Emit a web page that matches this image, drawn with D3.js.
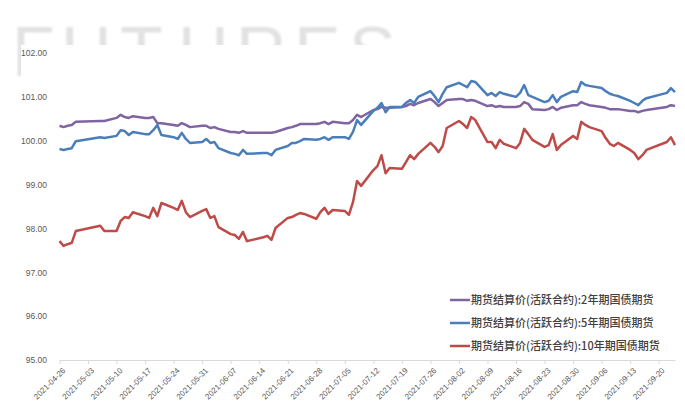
<!DOCTYPE html>
<html>
 <head>
  <meta charset="utf-8">
  <title>国债期货结算价</title>
  <style>
  body { margin: 0; background: #fff; }
  svg { display: block; font-family: "Liberation Sans", "DejaVu Sans", sans-serif; }
  </style>
  <script src="https://cdnjs.cloudflare.com/ajax/libs/d3/7.8.3/d3.min.js"></script>
 </head>
 <body>
  <script>
   // trading days
   const dates = [
    "2021-04-26","2021-04-27","2021-04-28","2021-04-29","2021-04-30",
    "2021-05-06","2021-05-07",
    "2021-05-10","2021-05-11","2021-05-12","2021-05-13","2021-05-14",
    "2021-05-17","2021-05-18","2021-05-19","2021-05-20","2021-05-21",
    "2021-05-24","2021-05-25","2021-05-26","2021-05-27","2021-05-28",
    "2021-05-31","2021-06-01","2021-06-02","2021-06-03","2021-06-04",
    "2021-06-07","2021-06-08","2021-06-09","2021-06-10","2021-06-11",
    "2021-06-15","2021-06-16","2021-06-17","2021-06-18",
    "2021-06-21","2021-06-22","2021-06-23","2021-06-24","2021-06-25",
    "2021-06-28","2021-06-29","2021-06-30","2021-07-01","2021-07-02",
    "2021-07-05","2021-07-06","2021-07-07","2021-07-08","2021-07-09",
    "2021-07-12","2021-07-13","2021-07-14","2021-07-15","2021-07-16",
    "2021-07-19","2021-07-20","2021-07-21","2021-07-22","2021-07-23",
    "2021-07-26","2021-07-27","2021-07-28","2021-07-29","2021-07-30",
    "2021-08-02","2021-08-03","2021-08-04","2021-08-05","2021-08-06",
    "2021-08-09","2021-08-10","2021-08-11","2021-08-12","2021-08-13",
    "2021-08-16","2021-08-17","2021-08-18","2021-08-19","2021-08-20",
    "2021-08-23","2021-08-24","2021-08-25","2021-08-26","2021-08-27",
    "2021-08-30","2021-08-31","2021-09-01","2021-09-02","2021-09-03",
    "2021-09-06","2021-09-07","2021-09-08","2021-09-09","2021-09-10",
    "2021-09-13","2021-09-14","2021-09-15","2021-09-16","2021-09-17",
    "2021-09-22","2021-09-23","2021-09-24"
   ];

   const bond2y = [
    100.34,100.31,100.34,100.36,100.43,
    100.45,100.45,
    100.52,100.59,100.54,100.52,100.56,
    100.52,100.52,100.54,100.40,100.40,
    100.36,100.34,100.40,100.36,100.31,
    100.34,100.34,100.29,100.31,100.27,
    100.20,100.20,100.18,100.22,100.18,
    100.18,100.18,100.18,100.20,
    100.29,100.31,100.34,100.38,100.38,
    100.38,100.40,100.43,100.38,100.43,
    100.40,100.40,100.47,100.59,100.54,
    100.70,100.72,100.77,100.75,100.75,
    100.77,100.79,100.84,100.81,100.86,
    100.95,100.88,100.79,100.86,100.93,
    100.95,100.95,100.91,100.93,100.91,
    100.79,100.81,100.77,100.79,100.77,
    100.77,100.79,100.88,100.84,100.72,
    100.70,100.72,100.77,100.70,100.75,
    100.81,100.81,100.88,100.84,100.81,
    100.77,100.75,100.72,100.72,100.72,
    100.68,100.68,100.65,100.68,100.70,
    100.77,100.81,100.79
   ];

   const bond5y = [
    99.81,99.79,99.81,99.83,99.99,
    100.08,100.06,
    100.11,100.24,100.22,100.13,100.20,
    100.15,100.15,100.24,100.36,100.13,
    100.08,100.04,100.18,100.04,99.95,
    99.97,100.04,99.95,99.97,99.83,
    99.72,99.70,99.67,99.79,99.70,
    99.72,99.72,99.67,99.79,
    99.88,99.95,99.95,99.99,100.04,
    100.02,100.04,100.08,100.02,100.08,
    100.08,100.04,100.20,100.47,100.36,
    100.68,100.75,100.86,100.65,100.77,
    100.77,100.86,100.93,100.86,101.00,
    101.13,101.02,100.88,101.07,101.22,
    101.32,101.27,101.22,101.36,101.34,
    101.04,101.09,101.02,101.11,101.07,
    101.00,101.09,101.27,101.04,101.00,
    100.88,100.91,101.04,100.88,101.00,
    101.13,101.11,101.34,101.27,101.25,
    101.20,101.13,101.07,101.04,101.02,
    100.91,100.86,100.81,100.91,100.97,
    101.09,101.20,101.11
   ];

   const bond10y = [
    97.71,97.60,97.64,97.67,97.94,
    98.06,97.94,
    97.94,98.17,98.26,98.24,98.37,
    98.28,98.24,98.47,98.28,98.58,
    98.47,98.42,98.63,98.37,98.26,
    98.40,98.44,98.24,98.28,98.03,
    97.87,97.85,97.76,97.92,97.71,
    97.80,97.83,97.74,98.01,
    98.24,98.26,98.31,98.35,98.33,
    98.22,98.37,98.47,98.33,98.42,
    98.40,98.31,98.60,99.08,98.97,
    99.33,99.42,99.67,99.26,99.38,
    99.36,99.51,99.67,99.58,99.70,
    99.95,99.86,99.74,99.88,100.29,
    100.45,100.38,100.29,100.54,100.47,
    99.97,99.97,99.83,100.02,99.93,
    99.83,99.95,100.27,100.15,100.02,
    99.86,99.90,100.15,99.79,99.90,
    100.11,100.04,100.43,100.36,100.31,
    100.22,100.06,99.93,99.88,99.95,
    99.79,99.72,99.58,99.67,99.79,
    99.97,100.08,99.90
   ];

   const seriesNames = [
    "期货结算价(活跃合约):2年期国债期货",
    "期货结算价(活跃合约):5年期国债期货",
    "期货结算价(活跃合约):10年期国债期货"
   ];
   const seriesColors = ["#8064a2", "#4a7ebb", "#be4b48"];
   const yTicks = [95, 96, 97, 98, 99, 100, 101, 102];
   const xTicks = [
    "2021-04-26","2021-05-03","2021-05-10","2021-05-17","2021-05-24",
    "2021-05-31","2021-06-07","2021-06-14","2021-06-21","2021-06-28",
    "2021-07-05","2021-07-12","2021-07-19","2021-07-26","2021-08-02",
    "2021-08-09","2021-08-16","2021-08-23","2021-08-30","2021-09-06",
    "2021-09-13","2021-09-20"
   ];

   const w = 685;
   const h = 408;
   const parseDate = d3.timeParse("%Y-%m-%d");
   const fmt = d3.timeFormat("%Y-%m-%d");

   const svg = d3.select("body")
                 .append("svg")
                 .attr("width", w)
                 .attr("height", h);

   // faint watermark, mostly hidden behind the plot area
   const clip = svg.append("clipPath").attr("id", "wm");
   clip.append("rect").attr("x", 0).attr("y", 0).attr("width", w).attr("height", 45);
   clip.append("rect").attr("x", 0).attr("y", 0).attr("width", 21).attr("height", 80);
   const wm = svg.append("g")
                 .attr("clip-path", "url(#wm)")
                 .style("filter", "blur(0.8px)");
   const wmLetters = [["F", 12], ["U", 61], ["T", 120], ["U", 178], ["R", 236], ["E", 294], ["S", 349]];
   wm.selectAll("text")
     .data(wmLetters)
     .enter()
     .append("text")
     .attr("x", d => d[1])
     .attr("y", 76)
     .attr("font-size", 70)
     .attr("fill", "#e2e2e2")
     .text(d => d[0]);

   const xScale = d3.scaleTime()
                    .domain([parseDate("2021-04-26"), parseDate("2021-09-24")])
                    .range([59.5, 675]);
   const yScale = d3.scaleLinear()
                    .domain([95, 102])
                    .range([360, 53]);

   // y axis
   const yAxis = d3.axisLeft(yScale)
                   .tickValues(yTicks)
                   .tickSize(0)
                   .tickPadding(3)
                   .tickFormat(d3.format(".2f"));
   const gy = svg.append("g")
                 .attr("transform", "translate(50,0)")
                 .call(yAxis);
   gy.select(".domain").remove();
   gy.selectAll("text")
     .attr("fill", "#595959")
     .attr("font-size", 8.5);

   // x axis
   const xAxis = d3.axisBottom(xScale)
                   .tickValues(xTicks.map(parseDate))
                   .tickSize(4)
                   .tickSizeOuter(0)
                   .tickFormat(fmt);
   const gx = svg.append("g")
                 .attr("transform", "translate(0,360)")
                 .call(xAxis);
   gx.select(".domain").attr("stroke", "#d9d9d9");
   gx.selectAll(".tick line").attr("stroke", "#d9d9d9");
   gx.selectAll("text")
     .attr("fill", "#595959")
     .attr("font-size", 8)
     .attr("text-anchor", "end")
     .attr("x", 0)
     .attr("y", 0)
     .attr("dy", "0.35em")
     .attr("transform", "translate(4,9) rotate(-45)");

   // lines
   const allSeries = [bond2y, bond5y, bond10y];
   const line = d3.line()
                  .x((d, i) => xScale(parseDate(dates[i])))
                  .y(d => yScale(d));
   svg.selectAll("path.series")
      .data(allSeries)
      .enter()
      .append("path")
      .attr("class", "series")
      .attr("fill", "none")
      .attr("stroke", (d, i) => seriesColors[i])
      .attr("stroke-width", 2.5)
      .attr("stroke-linejoin", "round")
      .attr("d", line);

   // legend
   const legend = svg.append("g")
                     .attr("transform", "translate(450,300)");
   const items = legend.selectAll("g")
                       .data(seriesNames)
                       .enter()
                       .append("g")
                       .attr("transform", (d, i) => "translate(0," + (i * 23) + ")");
   items.append("line")
        .attr("x1", 0)
        .attr("x2", 20)
        .attr("y1", 0)
        .attr("y2", 0)
        .attr("stroke", (d, i) => seriesColors[i])
        .attr("stroke-width", 2.5);
   items.append("text")
        .attr("x", 21)
        .attr("y", 0)
        .attr("dy", "0.36em")
        .attr("font-family", "'Noto Sans CJK SC', sans-serif")
        .attr("font-size", 11)
        .attr("font-weight", 500)
        .attr("fill", "#404040")
        .text(d => d);
  </script>
 </body>
</html>
